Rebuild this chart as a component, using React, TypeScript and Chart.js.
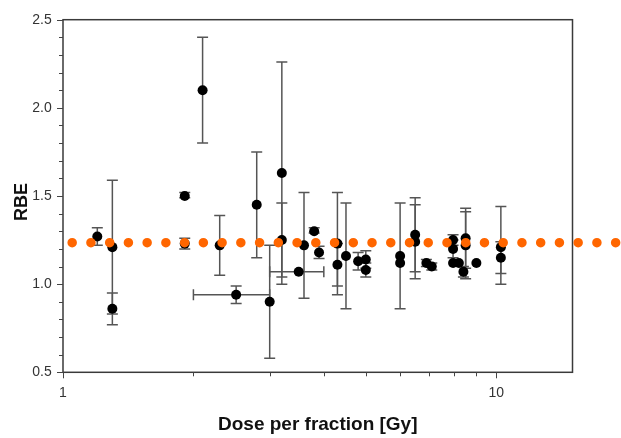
import React, { useEffect, useRef } from 'react';
import { Chart, registerables } from 'chart.js';

Chart.register(...registerables);

// ---- data ----
const doses = [1.2, 1.3, 1.3, 1.91, 1.91, 2.1, 2.3, 2.51, 2.8, 3.0, 3.2, 3.2, 3.5, 3.6, 3.8, 3.9, 4.3, 4.3, 4.5, 4.8, 5.0, 5.0, 6.0, 6.0, 6.5, 6.5, 6.9, 7.1, 7.95, 7.95, 7.95, 8.2, 8.4, 8.5, 8.5, 9.0, 10.25, 10.25];
const rbe = [1.27, 1.21, 0.86, 1.5, 1.23, 2.1, 1.22, 0.94, 1.45, 0.9, 1.63, 1.25, 1.07, 1.22, 1.3, 1.18, 1.23, 1.11, 1.16, 1.13, 1.14, 1.08, 1.16, 1.12, 1.28, 1.24, 1.12, 1.1, 1.25, 1.2, 1.12, 1.12, 1.07, 1.26, 1.22, 1.12, 1.21, 1.15];
const rbeLow = [1.22, 0.83, 0.77, 1.49, 1.2, 1.8, 1.05, 0.89, 1.15, 0.58, 1.0, 1.04, null, 0.92, 1.29, 1.145, 0.94, 0.99, 0.86, 1.08, 1.09, 1.04, 0.86, null, 1.07, 1.03, 1.1, 1.08, 1.22, 1.15, null, null, 1.04, 1.09, 1.03, null, 1.0, 1.06];
const rbeHigh = [1.32, 1.59, 0.95, 1.52, 1.26, 2.4, 1.39, 0.99, 1.75, 1.22, 2.26, 1.46, null, 1.52, 1.32, 1.215, 1.52, 1.23, 1.46, 1.18, 1.19, 1.12, 1.46, null, 1.49, 1.45, 1.14, 1.12, 1.28, 1.25, null, null, 1.1, 1.43, 1.41, null, 1.44, 1.24];
const doseLow = [null, null, null, null, null, null, null, 2.0, null, null, null, null, 3.0, null, null, null, null, null, null, null, null, null, null, null, null, null, null, null, null, null, null, null, null, null, null, null, null, null];
const doseHigh = [null, null, null, null, null, null, null, 3.0, null, null, null, null, 4.0, null, null, null, null, null, null, null, null, null, null, null, null, null, null, null, null, null, null, null, null, null, null, null, null, null];

const refRBE = 1.235;
const refDoses = [1.05, 18.9];

const xTickLabels = [1, 10];
const xMinorTicks = [1, 2, 3, 4, 5, 6, 7, 8, 9, 10];
const yTickValues = [0.5, 1.0, 1.5, 2.0, 2.5];
const yMinorStep = 0.1;

const xTitle = 'Dose per fraction [Gy]';
const yTitle = 'RBE';

const FONT = "'Liberation Sans', Arial, Helvetica, sans-serif";

const decorPlugin = {
  id: 'decor',
  beforeDatasetsDraw(chart: any) {
    const { ctx, chartArea, scales } = chart;
    const x = scales.x;
    const y = scales.y;
    const { left, right, top, bottom } = chartArea;
    ctx.save();
    // frame
    ctx.strokeStyle = '#3a3a3a';
    ctx.lineWidth = 1.5;
    ctx.strokeRect(left, top, right - left, bottom - top);
    // y ticks
    ctx.lineWidth = 1;
    ctx.strokeStyle = '#444';
    const nY = Math.round((yTickValues[yTickValues.length - 1] - yTickValues[0]) / yMinorStep);
    for (let i = 0; i <= nY; i++) {
      const v = yTickValues[0] + i * yMinorStep;
      const py = Math.round(y.getPixelForValue(v)) + 0.5;
      const major = yTickValues.some((t) => Math.abs(t - v) < 1e-6);
      const len = major ? 6 : 4;
      ctx.beginPath();
      ctx.moveTo(left - len, py);
      ctx.lineTo(left, py);
      ctx.stroke();
    }
    // x ticks
    for (const d of xMinorTicks) {
      const px = Math.round(x.getPixelForValue(d)) + 0.5;
      const major = xTickLabels.includes(d);
      const len = major ? 6 : 4;
      ctx.beginPath();
      ctx.moveTo(px, bottom);
      ctx.lineTo(px, bottom + len);
      ctx.stroke();
    }
    // error bars
    ctx.strokeStyle = '#555';
    ctx.lineWidth = 1.5;
    const cap = 5.5;
    for (let i = 0; i < doses.length; i++) {
      const px = x.getPixelForValue(doses[i]);
      const py = y.getPixelForValue(rbe[i]);
      const lo = rbeLow[i];
      const hi = rbeHigh[i];
      if (lo != null && hi != null) {
        const pLo = y.getPixelForValue(lo);
        const pHi = y.getPixelForValue(hi);
        ctx.beginPath();
        ctx.moveTo(px, pLo);
        ctx.lineTo(px, pHi);
        ctx.moveTo(px - cap, pLo);
        ctx.lineTo(px + cap, pLo);
        ctx.moveTo(px - cap, pHi);
        ctx.lineTo(px + cap, pHi);
        ctx.stroke();
      }
      const dl = doseLow[i];
      const dh = doseHigh[i];
      if (dl != null && dh != null) {
        const pL = x.getPixelForValue(dl);
        const pH = x.getPixelForValue(dh);
        ctx.beginPath();
        ctx.moveTo(pL, py);
        ctx.lineTo(pH, py);
        ctx.moveTo(pL, py - cap);
        ctx.lineTo(pL, py + cap);
        ctx.moveTo(pH, py - cap);
        ctx.lineTo(pH, py + cap);
        ctx.stroke();
      }
    }
    ctx.restore();
  },
  afterDraw(chart: any) {
    const { ctx, chartArea } = chart;
    ctx.save();
    ctx.translate(22, (chartArea.top + chartArea.bottom) / 2 + 6);
    ctx.rotate(-Math.PI / 2);
    ctx.font = `bold 18px ${FONT}`;
    ctx.fillStyle = '#111';
    ctx.textAlign = 'center';
    ctx.textBaseline = 'middle';
    ctx.fillText(yTitle, 0, 0);
    ctx.restore();
  },
};

export default function App() {
  const ref = useRef<HTMLCanvasElement | null>(null);
  useEffect(() => {
    document.body.style.margin = '0';
    const canvas = ref.current;
    if (!canvas) return;
    const chart = new Chart(canvas, {
      type: 'scatter',
      data: {
        datasets: [
          {
            label: 'RBE',
            data: doses.map((d, i) => ({ x: d, y: rbe[i] })),
            backgroundColor: '#000',
            borderColor: '#000',
            pointRadius: 5,
            pointBorderWidth: 0,
            order: 2,
          } as any,
          {
            label: 'RBE 1.1',
            data: refDoses.map((d) => ({ x: d, y: refRBE })),
            showLine: true,
            borderColor: '#ff6600',
            borderWidth: 9.5,
            borderDash: [0.01, 18.73],
            borderCapStyle: 'round',
            pointRadius: 0,
            clip: false,
            order: 1,
          } as any,
        ],
      },
      options: {
        responsive: false,
        animation: false,
        layout: { padding: { top: 13.3, right: 48.5, left: 0, bottom: 0 } },
        plugins: { legend: { display: false }, tooltip: { enabled: false } },
        scales: {
          x: {
            type: 'logarithmic',
            min: 1,
            max: 15,
            grid: { display: false, drawTicks: false },
            border: { display: false },
            ticks: {
              autoSkip: false,
              maxRotation: 0,
              padding: 12,
              color: '#333',
              font: { family: FONT, size: 14 },
              callback: (v: any) => (xTickLabels.includes(Number(v)) ? String(v) : ''),
            },
            title: {
              display: true,
              text: xTitle,
              color: '#111',
              font: { family: FONT, size: 19, weight: 'bold' },
              padding: { top: 0, bottom: 1.6 },
            },
            afterFit: (s: any) => {
              s.height = 65.7;
            },
          },
          y: {
            type: 'linear',
            min: 0.5,
            max: 2.5,
            grid: { display: false, drawTicks: false },
            border: { display: false },
            ticks: {
              stepSize: 0.5,
              padding: 11.3,
              color: '#333',
              font: { family: FONT, size: 14 },
              callback: (v: any) => Number(v).toFixed(1),
            },
            afterFit: (s: any) => {
              s.width = 63;
            },
          },
        },
      } as any,
      plugins: [decorPlugin],
    });
    return () => chart.destroy();
  }, []);
  return (
    <div style={{ width: 621, height: 438, position: 'relative' }}>
      <canvas ref={ref} width={621} height={438} style={{ display: 'block' }} />
    </div>
  );
}
